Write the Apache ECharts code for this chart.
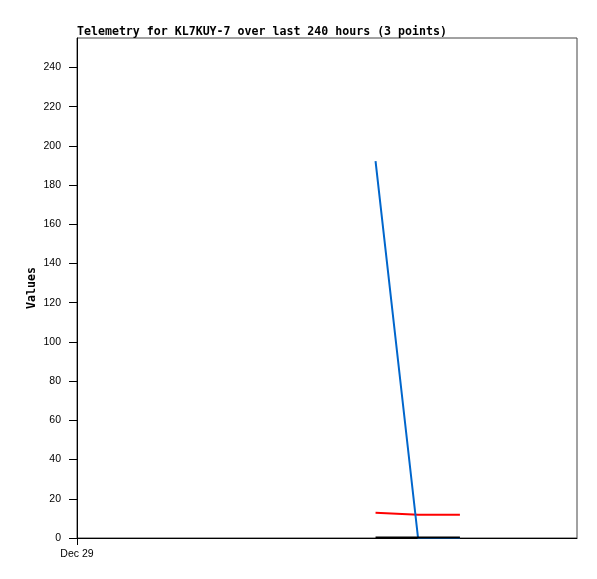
<!DOCTYPE html>
<html>
<head>
<meta charset="utf-8">
<script src="https://cdn.jsdelivr.net/npm/echarts@6/dist/echarts.min.js"></script>
<style>
  html, body { margin: 0; padding: 0; background: #fff; }
  #chart { width: 597px; height: 579px; }
</style>
</head>
<body>
<div id="chart"></div>
<script>
// hours since Dec 29 00:00
const hours = [143.3, 163.7, 183.8]
const blueValues = [192.2, 0, 0]
const redValues = [12.9, 11.9, 11.9]
const blackValues = [0.3, 0.3, 0.3]
const yTicks = [0, 20, 40, 60, 80, 100, 120, 140, 160, 180, 200, 220, 240]
const xTicks = [0]
const xTickLabels = ['Dec 29']

const mono = '"DejaVu Sans Mono", monospace'
const sans = '"Liberation Sans", Arial, sans-serif'

const pairs = vals => hours.map((h, i) => [h, vals[i]])

const chart = echarts.init(document.getElementById('chart'))
chart.setOption({
  animation: false,
  title: {
    text: 'Telemetry for KL7KUY-7 over last 240 hours (3 points)',
    left: 72,
    top: 21,
    textStyle: { fontFamily: mono, fontWeight: 'bold', fontSize: 11.6, color: '#000' }
  },
  grid: {
    left: 77, right: 20, top: 38, bottom: 41,
    show: true, borderColor: '#444', borderWidth: 1
  },
  xAxis: {
    type: 'value',
    min: 0,
    max: 240,
    axisLine: { lineStyle: { color: '#000', width: 1 } },
    axisTick: { customValues: xTicks, length: 7, lineStyle: { color: '#000' } },
    axisLabel: {
      customValues: xTicks,
      margin: 11,
      formatter: v => xTickLabels[xTicks.indexOf(v)] || '',
      fontFamily: sans, fontSize: 10.5, color: '#000'
    },
    splitLine: { show: false }
  },
  yAxis: {
    type: 'value',
    min: 0,
    max: 255,
    name: 'Values',
    nameLocation: 'middle',
    nameGap: 39,
    nameMoveOverlap: false,
    nameTextStyle: { fontFamily: mono, fontWeight: 'bold', fontSize: 11.6, color: '#000' },
    axisLine: { show: true, lineStyle: { color: '#000', width: 1 } },
    axisTick: { show: true, customValues: yTicks, length: 8, lineStyle: { color: '#000' } },
    axisLabel: { customValues: yTicks, margin: 16, fontFamily: sans, fontSize: 10.5, color: '#000' },
    splitLine: { show: false }
  },
  series: [
    {
      type: 'line', data: pairs(redValues), showSymbol: false,
      lineStyle: { color: '#ff0000', width: 2 }, z: 2
    },
    {
      type: 'line', data: pairs(blueValues), showSymbol: false,
      lineStyle: { color: '#0066cc', width: 2 }, z: 3
    },
    {
      type: 'line', data: pairs(blackValues), showSymbol: false,
      lineStyle: { color: '#000000', width: 2 }, z: 4
    }
  ]
})
</script>
</body>
</html>
